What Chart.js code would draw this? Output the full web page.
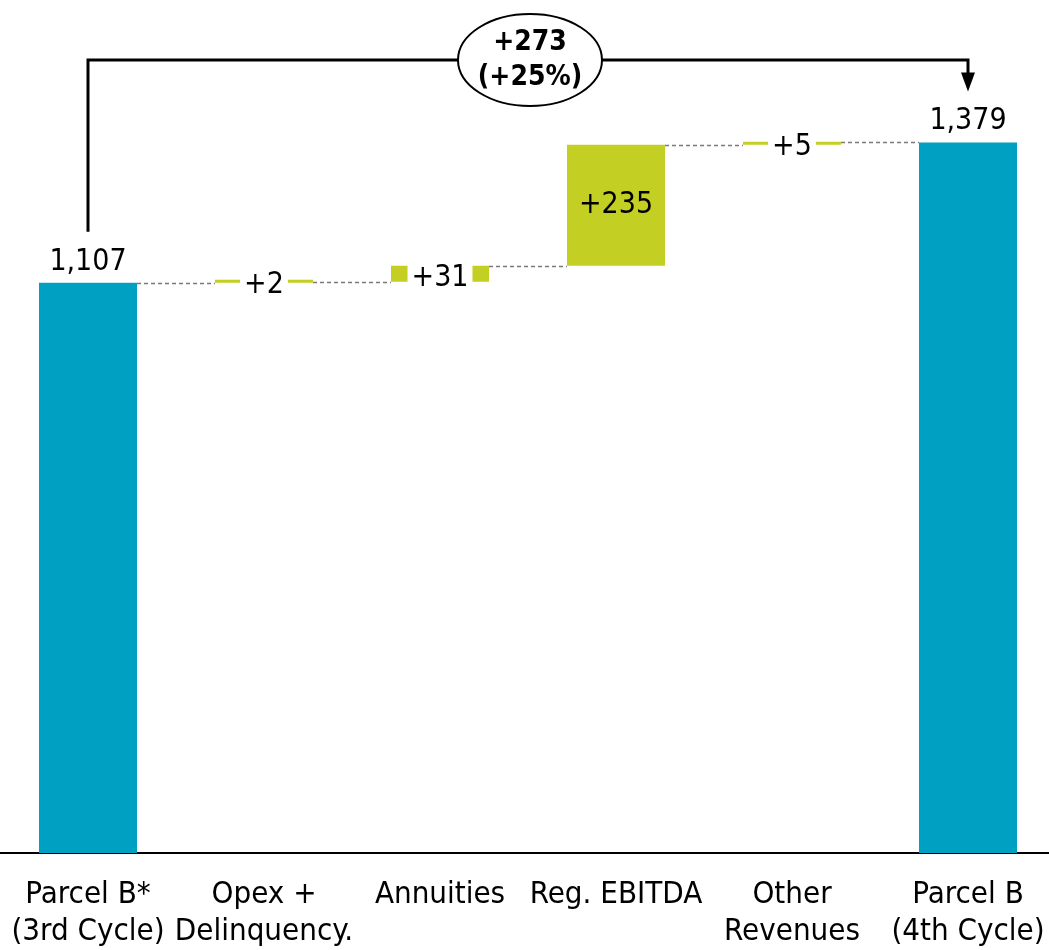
<!DOCTYPE html>
<html>
<head>
<meta charset="utf-8">
<script src="https://cdn.jsdelivr.net/npm/chart.js@4"></script>
<style>
html, body { margin: 0; padding: 0; background: #fff; overflow: hidden; }
#wrap { width: 1056px; height: 950px; }
</style>
</head>
<body>
<div id="wrap"><canvas id="chart"></canvas></div>
<script>
var categories = [['Parcel B*', '(3rd Cycle)'], ['Opex +', 'Delinquency.'], 'Annuities', 'Reg. EBITDA', ['Other', 'Revenues'], ['Parcel B', '(4th Cycle)']];
var changes = [1107, 2, 31, 235, 5, 1379];
var isTotal = [true, false, false, false, false, true];
var valueLabels = ['1,107', '+2', '+31', '+235', '+5', '1,379'];
var bracketLabel = ['+273', '(+25%)'];
var bracketLevel = 1540;

var TEAL = '#00A0C3';
var GREEN = '#C3CF23';
var FONT = "'DejaVu Sans Condensed', 'DejaVu Sans', sans-serif";

// floating bars for the waterfall
var floating = [];
var ends = [];
var running = 0;
changes.forEach(function (v, i) {
    if (isTotal[i]) {
        floating.push([0, v]);
        running = v;
    } else {
        floating.push([running, running + v]);
        running += v;
    }
    ends.push(running);
});

var waterfallPlugin = {
    id: 'waterfall',
    beforeDatasetsDraw: function (chart) {
        var ctx = chart.ctx;
        var bars = chart.getDatasetMeta(0).data;
        var y = chart.scales.y;
        ctx.save();
        ctx.strokeStyle = '#7a7a7a';
        ctx.lineWidth = 1.5;
        ctx.setLineDash([4, 3]);
        for (var i = 0; i < bars.length - 1; i++) {
            var py = Math.round(y.getPixelForValue(ends[i])) + 0.5;
            ctx.beginPath();
            ctx.moveTo(bars[i].x + bars[i].width / 2, py);
            ctx.lineTo(bars[i + 1].x - bars[i + 1].width / 2, py);
            ctx.stroke();
        }
        ctx.restore();
    },
    afterDatasetsDraw: function (chart) {
        var ctx = chart.ctx;
        var bars = chart.getDatasetMeta(0).data;
        var y = chart.scales.y;
        ctx.save();
        ctx.font = '30px ' + FONT;
        ctx.fillStyle = '#000';
        ctx.textAlign = 'center';
        bars.forEach(function (el, i) {
            if (isTotal[i]) {
                ctx.textBaseline = 'bottom';
                ctx.fillText(valueLabels[i], el.x, el.y - 6);
                return;
            }
            var cy = (el.y + el.base) / 2;
            var h = Math.abs(el.base - el.y);
            ctx.textBaseline = 'middle';
            if (h < 40) {
                var w = ctx.measureText(valueLabels[i]).width + 8;
                ctx.fillStyle = '#fff';
                ctx.fillRect(el.x - w / 2, cy - 15, w, 30);
                ctx.fillStyle = '#000';
                ctx.fillText(valueLabels[i], el.x, cy + 4);
            } else {
                ctx.fillText(valueLabels[i], el.x, cy);
            }
        });

        // total change bracket
        var x0 = bars[0].x, x1 = bars[bars.length - 1].x;
        var top = Math.round(y.getPixelForValue(bracketLevel));
        ctx.strokeStyle = '#000';
        ctx.lineWidth = 3;
        ctx.beginPath();
        ctx.moveTo(x0, bars[0].y - 51);
        ctx.lineTo(x0, top);
        ctx.lineTo(x1, top);
        ctx.lineTo(x1, bars[bars.length - 1].y - 68);
        ctx.stroke();
        var tip = bars[bars.length - 1].y - 51;
        ctx.fillStyle = '#000';
        ctx.beginPath();
        ctx.moveTo(x1 - 7, tip - 19);
        ctx.lineTo(x1 + 7, tip - 19);
        ctx.lineTo(x1, tip);
        ctx.closePath();
        ctx.fill();

        var mx = (x0 + x1) / 2 + 2;
        ctx.beginPath();
        ctx.ellipse(mx, top, 72, 46, 0, 0, Math.PI * 2);
        ctx.fillStyle = '#fff';
        ctx.fill();
        ctx.lineWidth = 2;
        ctx.stroke();
        ctx.fillStyle = '#000';
        ctx.font = 'bold 28px ' + FONT;
        ctx.textBaseline = 'middle';
        ctx.fillText(bracketLabel[0], mx, top - 17);
        ctx.fillText(bracketLabel[1], mx, top + 18);
        ctx.restore();
    }
};

new Chart(document.getElementById('chart'), {
    type: 'bar',
    data: {
        labels: categories,
        datasets: [{
            data: floating,
            backgroundColor: isTotal.map(function (t) { return t ? TEAL : GREEN; }),
            borderWidth: 0,
            borderSkipped: false,
            barPercentage: 0.557,
            categoryPercentage: 1,
            minBarLength: 3
        }]
    },
    options: {
        responsive: true,
        maintainAspectRatio: false,
        animation: false,
        layout: { padding: { top: 3, left: 0, right: 0, bottom: 0 } },
        plugins: {
            legend: { display: false },
            tooltip: { enabled: false }
        },
        scales: {
            x: {
                grid: { display: false, drawTicks: false },
                border: { display: true, color: '#000', width: 2 },
                ticks: {
                    color: '#000',
                    padding: 23,
                    maxRotation: 0,
                    autoSkip: false,
                    font: { family: FONT, size: 31, lineHeight: 1.2 }
                },
                afterFit: function (scale) {
                    scale.height = 97;
                    scale.paddingLeft = 0;
                    scale.paddingRight = 0;
                }
            },
            y: {
                display: false,
                min: 0,
                max: 1650
            }
        }
    },
    plugins: [waterfallPlugin]
});
</script>
</body>
</html>
